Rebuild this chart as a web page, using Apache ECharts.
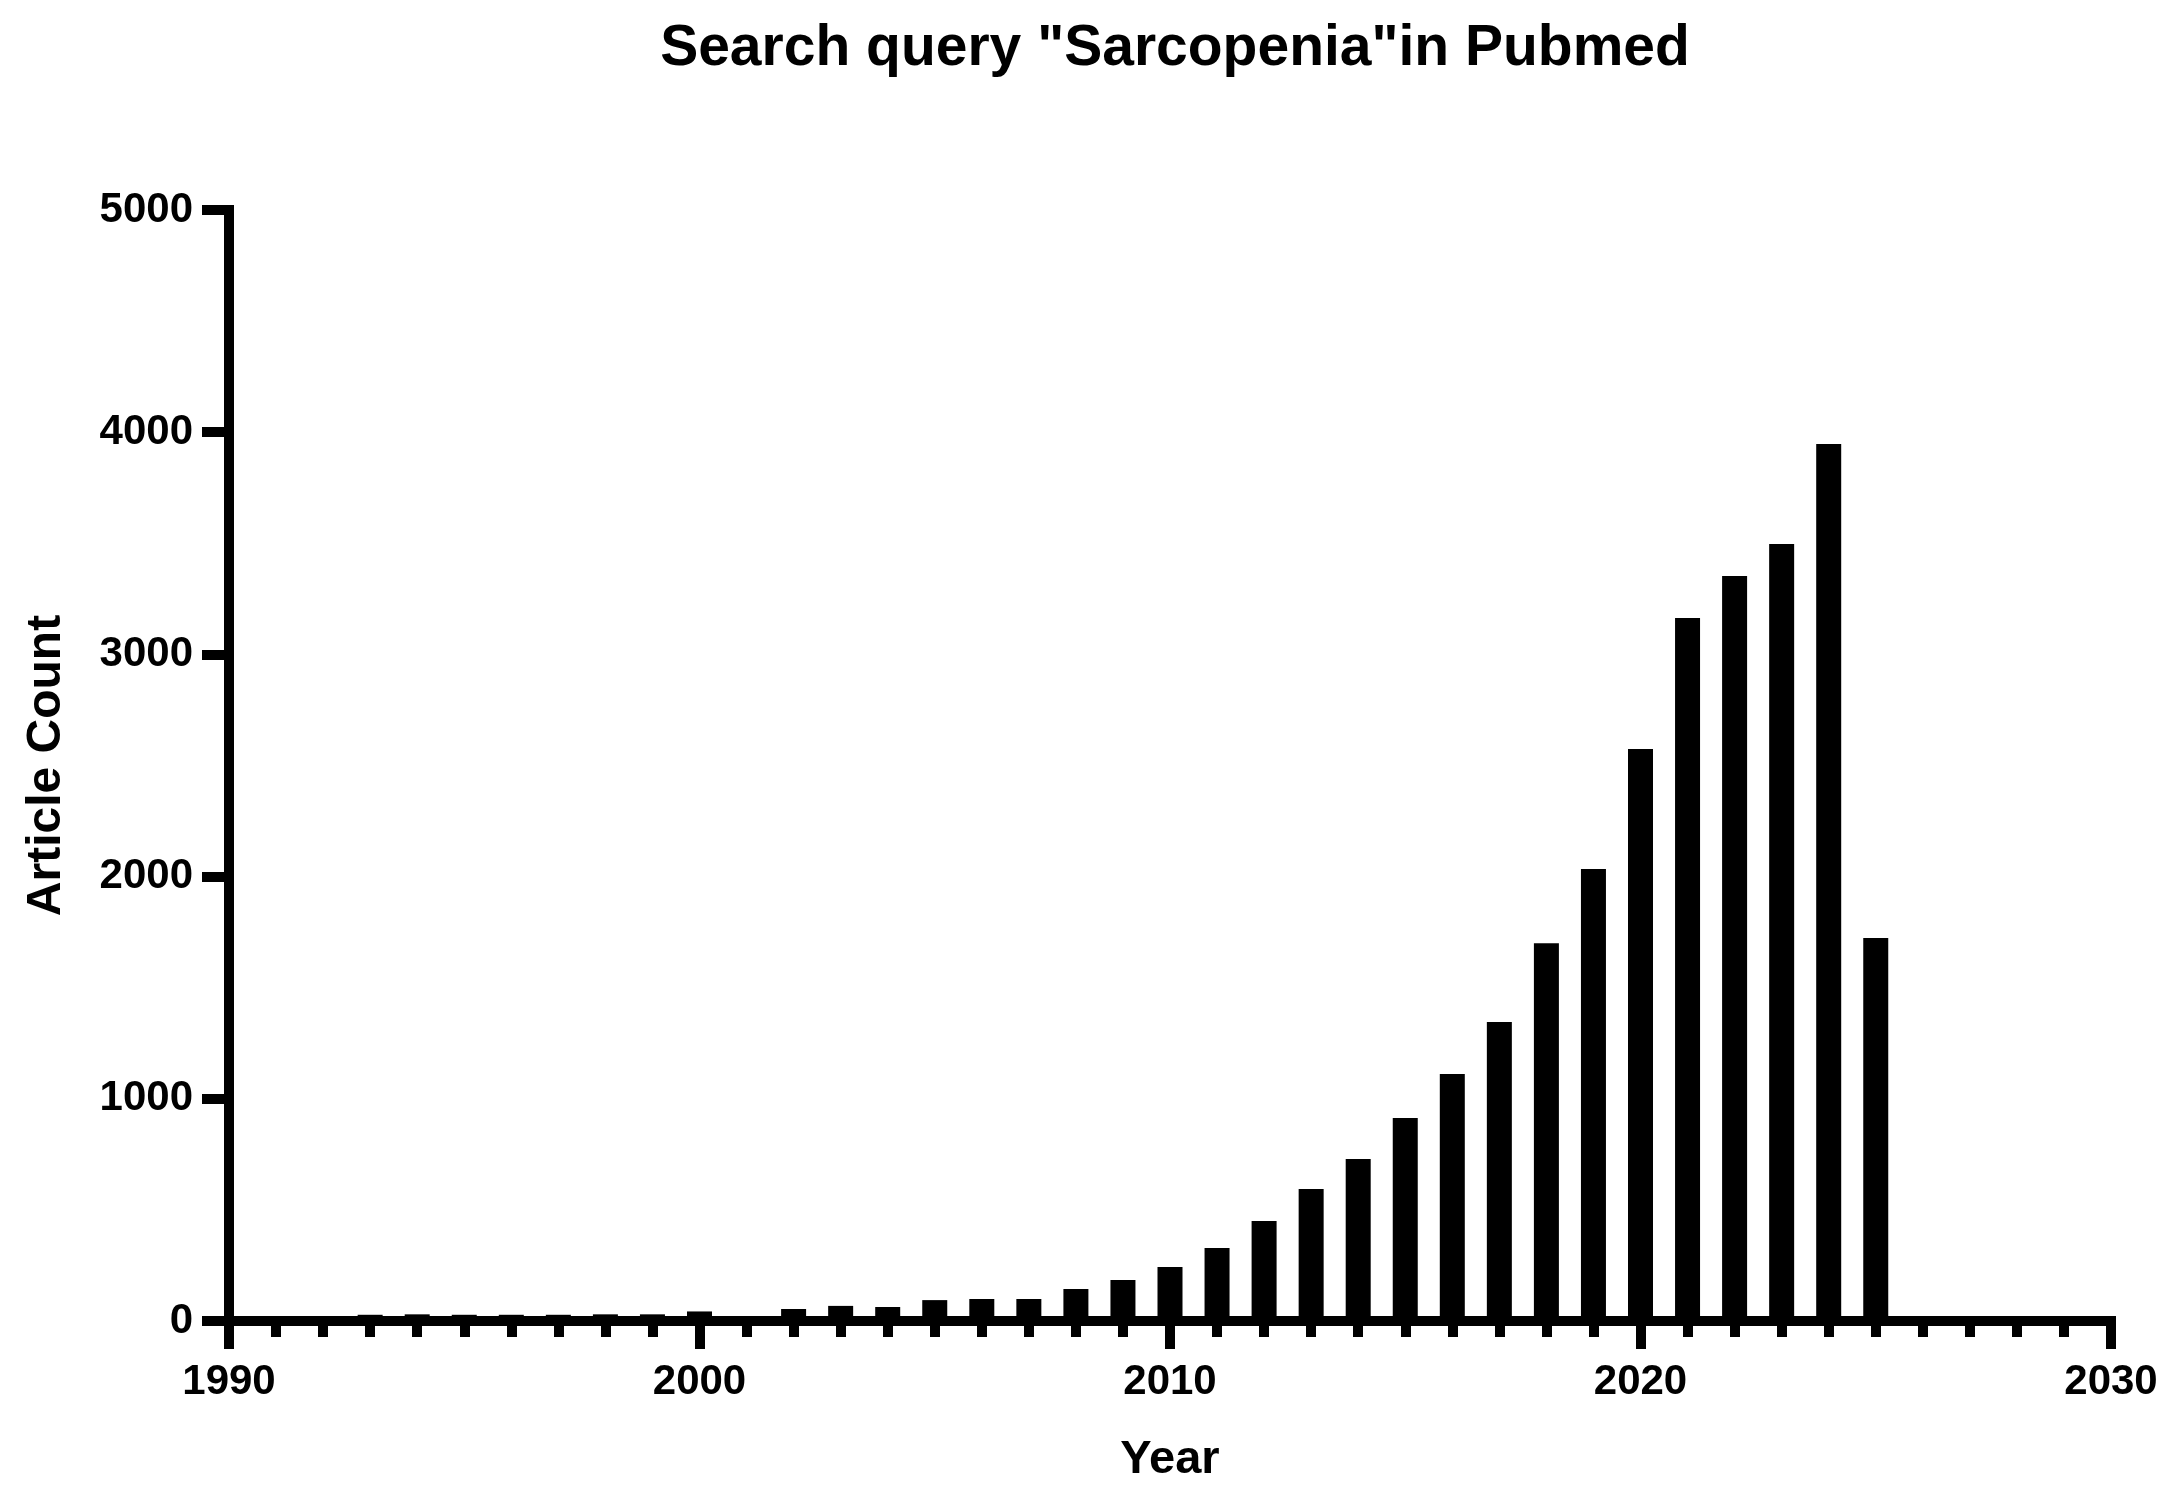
<!DOCTYPE html>
<html>
<head>
<meta charset="utf-8">
<script src="https://cdn.jsdelivr.net/npm/echarts@6/dist/echarts.min.js"></script>
<style>
html,body{margin:0;padding:0;background:#fff;}
#chart{width:2176px;height:1501px;}
</style>
</head>
<body>
<div id="chart"></div>
<script>
const titleText = 'Search query "Sarcopenia"in Pubmed';
const xAxisName = 'Year';
const yAxisName = 'Article Count';
const years = [1993,1994,1995,1996,1997,1998,1999,2000,2002,2003,2004,2005,2006,2007,2008,2009,2010,2011,2012,2013,2014,2015,2016,2017,2018,2019,2020,2021,2022,2023,2024,2025];
const counts = [28,30,28,28,28,30,30,43,54,68,63,94,99,99,144,184,243,328,450,594,729,914,1112,1346,1700,2034,2574,3164,3353,3497,3947,1724];
const xMin = 1990, xMax = 2030, xStep = 10;
const yMin = 0, yMax = 5000, yStep = 1000;

const FONT = '"Liberation Sans", Arial, Helvetica, sans-serif';
const chart = echarts.init(document.getElementById('chart'), null, {renderer: 'canvas'});
const data = years.map((y, i) => [y, counts[i]]);
chart.setOption({
  animation: false,
  backgroundColor: '#ffffff',
  title: {
    text: titleText,
    left: 1170,
    textAlign: 'center',
    top: 16,
    textStyle: {fontFamily: FONT, fontWeight: 'bold', fontSize: 57, color: '#000'}
  },
  grid: {left: 229, right: 65, top: 210, bottom: 180, containLabel: false},
  xAxis: {
    type: 'value',
    min: xMin, max: xMax, interval: xStep,
    name: xAxisName,
    nameLocation: 'middle',
    nameGap: 116,
    nameTextStyle: {fontFamily: FONT, fontWeight: 'bold', fontSize: 47, color: '#000'},
    axisLine: {show: true, onZero: false, lineStyle: {color: '#000', width: 10, cap: 'square'}},
    axisTick: {show: true, inside: false, length: 28, lineStyle: {color: '#000', width: 10}},
    minorTick: {show: true, splitNumber: 10, length: 16, lineStyle: {color: '#000', width: 10}},
    axisLabel: {fontFamily: FONT, fontWeight: 'bold', fontSize: 42, color: '#000', margin: 40,
      formatter: v => String(v)},
    splitLine: {show: false}
  },
  yAxis: {
    type: 'value',
    min: yMin, max: yMax, interval: yStep,
    name: yAxisName,
    nameLocation: 'middle',
    nameGap: 158,
    nameRotate: 90,
    nameTextStyle: {fontFamily: FONT, fontWeight: 'bold', fontSize: 48, color: '#000'},
    axisLine: {show: true, lineStyle: {color: '#000', width: 10, cap: 'square'}},
    axisTick: {show: true, inside: false, length: 27, lineStyle: {color: '#000', width: 10}},
    axisLabel: {fontFamily: FONT, fontWeight: 'bold', fontSize: 42, color: '#000', margin: 36,
      formatter: v => String(v)},
    splitLine: {show: false}
  },
  series: [{
    type: 'bar',
    data: data,
    barWidth: 25,
    itemStyle: {color: '#000'},
    z: 1
  }]
});
</script>
</body>
</html>
